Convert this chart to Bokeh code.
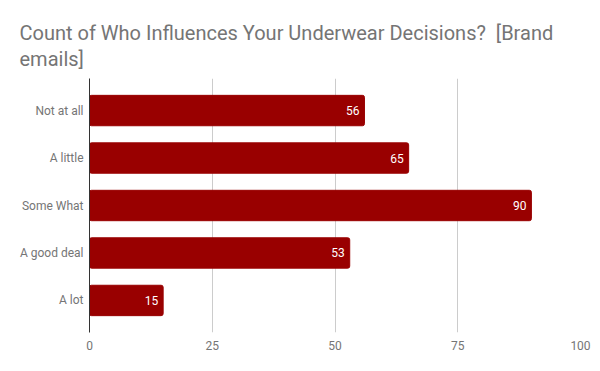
from bokeh.plotting import figure
from bokeh.models import ColumnDataSource, FactorRange, Range1d, LabelSet, Title, FixedTicker
from bokeh.core.properties import value
from bokeh.embed import file_html
from bokeh.resources import INLINE

categories = ["Not at all", "A little", "Some What", "A good deal", "A lot"]
counts = [56, 65, 90, 53, 15]
x_ticks = [0, 25, 50, 75, 100]
title_text = "Count of Who Influences Your Underwear Decisions?\u00a0 [Brand\nemails]"

source = ColumnDataSource(data=dict(cat=categories, count=counts, label=[str(c) for c in counts]))

FONT = "Roboto"

p = figure(width=600, height=371, output_backend="svg", toolbar_location=None,
           y_range=FactorRange(factors=list(reversed(categories)), range_padding=0.07),
           x_range=Range1d(0, 100),
           min_border_left=89, min_border_right=20, min_border_bottom=39, min_border_top=78)
p.title = None

p.hbar(y="cat", right="count", left=0, height=0.64, source=source,
       color="#990000", border_radius=2)

labels = LabelSet(x="count", y="cat", text="label", source=source, x_offset=-5,
                  text_align="right", text_baseline="middle", text_color="white",
                  text_font=value(FONT), text_font_size="12px")
p.add_layout(labels)

p.add_layout(Title(text=title_text, text_font=FONT, text_font_size="20px",
                   text_font_style="normal", text_color="#757575", align="left",
                   offset=-70, standoff=15, text_line_height=1.1), "above")

p.xaxis.ticker = FixedTicker(ticks=x_ticks)
p.xaxis.axis_line_color = None
p.xaxis.major_tick_line_color = None
p.xaxis.minor_tick_line_color = None
p.xaxis.major_label_text_font = FONT
p.xaxis.major_label_text_font_size = "12px"
p.xaxis.major_label_text_color = "#757575"
p.xaxis.major_label_standoff = 2

p.yaxis.axis_line_color = "#333333"
p.yaxis.axis_line_width = 1
p.yaxis.major_tick_line_color = None
p.yaxis.minor_tick_line_color = None
p.yaxis.major_label_text_font = FONT
p.yaxis.major_label_text_font_size = "12px"
p.yaxis.major_label_text_color = "#757575"
p.yaxis.major_label_standoff = 0

p.xgrid.grid_line_color = "#cccccc"
p.ygrid.grid_line_color = None
p.outline_line_color = None

open("out.html", "w").write(file_html(p, INLINE))
